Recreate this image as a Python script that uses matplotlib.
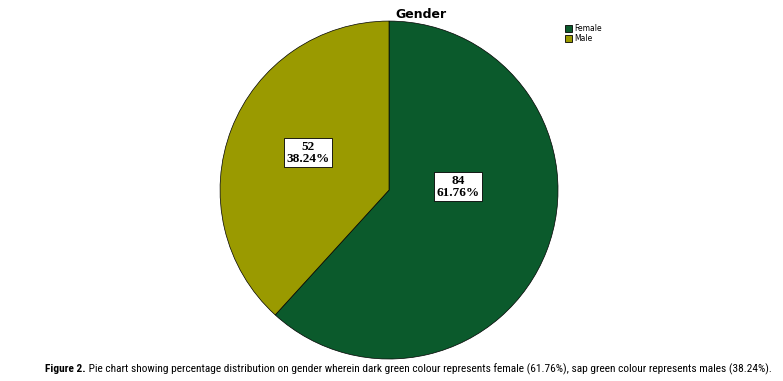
import numpy as np
import matplotlib.pyplot as plt
from matplotlib import font_manager
from matplotlib.patches import Patch

categories = ["Female", "Male"]
counts = [84, 52]
percents = [61.76, 38.24]
colors = ["#0b5a2c", "#9a9a00"]

title = "Gender"
caption_bold = "Figure 2."
caption_rest = (" Pie chart showing percentage distribution on gender wherein dark green colour "
                "represents female (61.76%), sap green colour represents males (38.24%).")

fig = plt.figure(figsize=(7.83, 3.81), dpi=100)
ax = fig.add_axes([0.281, 0.0577, 0.4317, 0.887])

wedges, _ = ax.pie(counts, colors=colors, startangle=90, counterclock=False,
                   wedgeprops=dict(edgecolor="black", linewidth=0.5))
ax.set_xlim(-1, 1)
ax.set_ylim(-1, 1)
ax.set_aspect("equal")
ax.axis("off")

# value labels inside the slices
label_xy = [(0.41, 0.02), (-0.48, 0.22)]
for (x, y), n, p in zip(label_xy, counts, percents):
    ax.text(x, y, f"{n}\n{p:.2f}%", ha="center", va="center",
            fontsize=9.5, fontweight="bold", family="Liberation Serif", linespacing=1.0,
            bbox=dict(facecolor="white", edgecolor="black", linewidth=0.6, pad=1.8))

fig.text(0.537, 0.962, title, ha="center", va="center", fontsize=9, fontweight="bold",
         color="black")

handles = [Patch(facecolor=c, edgecolor="black", linewidth=0.6) for c in colors]
fig.legend(handles, categories, loc="upper left", bbox_to_anchor=(0.717, 0.947),
           frameon=False, fontsize=5.5, handlelength=0.9, handleheight=0.9,
           handletextpad=0.3, labelspacing=0.15, borderpad=0)

# caption: pick a narrow face if one is installed
names = {f.name for f in font_manager.fontManager.ttflist}
cap_font = "Liberation Sans"
for cand in ["Liberation Sans Narrow", "DejaVu Sans Condensed", "Roboto Condensed",
             "Open Sans Condensed", "Noto Sans Condensed"]:
    if cand in names:
        cap_font = cand
        break

cap_size = 8.5
cap_y = 0.032
x0, x_end = 0.058, 0.985
t1 = fig.text(x0, cap_y, caption_bold, ha="left", va="center", fontsize=cap_size,
              fontweight="bold", family=cap_font)
fig.canvas.draw()
bb = t1.get_window_extent().transformed(fig.transFigure.inverted())
t2 = fig.text(bb.x1, cap_y, caption_rest, ha="left", va="center", fontsize=cap_size,
              family=cap_font)
fig.canvas.draw()
bb2 = t2.get_window_extent().transformed(fig.transFigure.inverted())
if bb2.x1 > x_end:
    scale = (x_end - x0) / (bb2.x1 - x0)
    t1.set_fontsize(cap_size * scale)
    t2.set_fontsize(cap_size * scale)
    fig.canvas.draw()
    bb = t1.get_window_extent().transformed(fig.transFigure.inverted())
    t2.set_x(bb.x1)

fig.savefig("out.png", dpi=100)
